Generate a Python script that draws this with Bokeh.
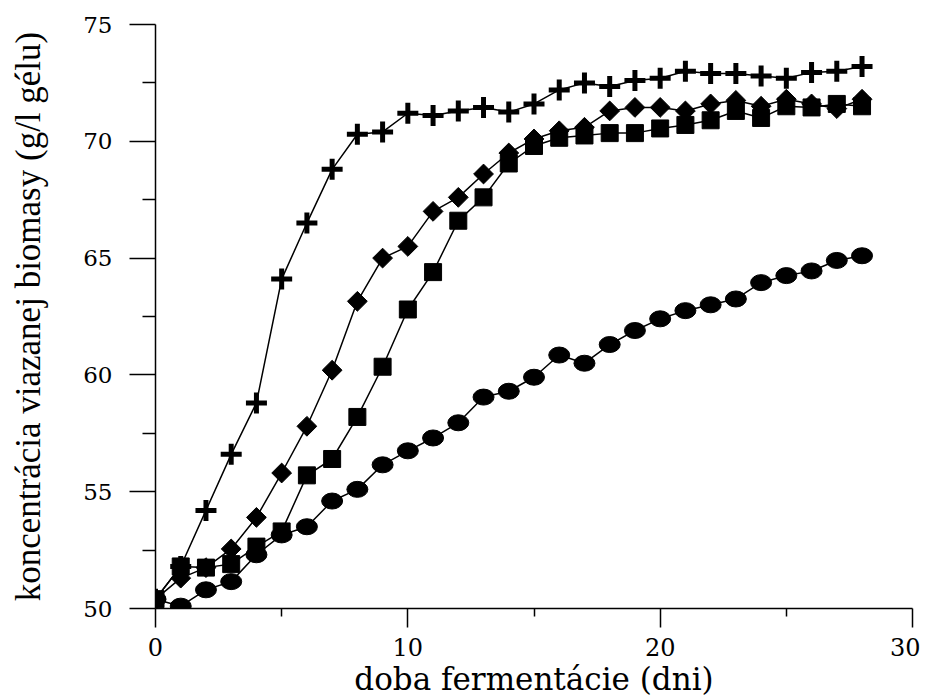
import math
from bokeh.plotting import figure
from bokeh.models import Range1d, FixedTicker
from bokeh.embed import file_html
from bokeh.resources import INLINE

days = list(range(0, 29))

plus_vals = [50.4, 51.8, 54.2, 56.6, 58.8, 64.1, 66.5, 68.8, 70.3, 70.4,
             71.2, 71.1, 71.3, 71.45, 71.25, 71.6, 72.2, 72.5, 72.35, 72.6,
             72.7, 73.0, 72.9, 72.9, 72.8, 72.7, 72.95, 73.0, 73.2]

diamond_vals = [50.4, 51.3, 51.75, 52.55, 53.9, 55.8, 57.8, 60.2, 63.15, 65.0,
                65.5, 67.0, 67.6, 68.6, 69.5, 70.1, 70.45, 70.6, 71.3, 71.45,
                71.45, 71.3, 71.6, 71.75, 71.5, 71.8, 71.6, 71.4, 71.8]

square_vals = [50.4, 51.8, 51.75, 51.9, 52.65, 53.3, 55.7, 56.4, 58.2, 60.35,
               62.8, 64.4, 66.6, 67.6, 69.05, 69.8, 70.15, 70.25, 70.35, 70.35,
               70.55, 70.7, 70.9, 71.3, 71.0, 71.5, 71.45, 71.6, 71.5]

circle_vals = [50.4, 50.1, 50.8, 51.15, 52.3, 53.15, 53.5, 54.6, 55.1, 56.15,
               56.75, 57.3, 57.95, 59.05, 59.3, 59.9, 60.85, 60.5, 61.3, 61.9,
               62.4, 62.75, 63.0, 63.25, 63.95, 64.25, 64.45, 64.9, 65.1]

x_major = [0, 10, 20, 30]
x_minor = [5, 15, 25]
y_major = [50, 55, 60, 65, 70, 75]
y_minor = [52.5, 57.5, 62.5, 67.5, 72.5]

p = figure(width=920, height=699, output_backend="svg", toolbar_location=None,
           x_range=Range1d(0, 30), y_range=Range1d(50, 75),
           min_border_left=155, min_border_right=8, min_border_top=24,
           min_border_bottom=90)
p.outline_line_color = None
p.grid.visible = False
p.background_fill_color = "white"
p.border_fill_color = "white"

p.xaxis.ticker = FixedTicker(ticks=x_major, minor_ticks=x_minor)
p.yaxis.ticker = FixedTicker(ticks=y_major, minor_ticks=y_minor)

for ax in (p.xaxis[0], p.yaxis[0]):
    ax.axis_line_color = "black"
    ax.axis_line_width = 1.5
    ax.major_tick_line_color = "black"
    ax.major_tick_line_width = 1.5
    ax.minor_tick_line_color = "black"
    ax.minor_tick_line_width = 1.5
    ax.major_tick_in = 0
    ax.minor_tick_in = 0
    ax.major_label_text_color = "black"
    ax.axis_label_text_color = "black"
    ax.axis_label_text_font_style = "normal"

p.xaxis.major_tick_out = 19
p.xaxis.minor_tick_out = 8
p.yaxis.major_tick_out = 26
p.yaxis.minor_tick_out = 13

p.xaxis.major_label_text_font = "DejaVu Serif"
p.xaxis.major_label_text_font_size = "24px"
p.xaxis.major_label_standoff = 10
p.yaxis.major_label_text_font = "DejaVu Serif"
p.yaxis.major_label_text_font_size = "23px"
p.yaxis.major_label_standoff = 17

p.xaxis.axis_label = "doba fermentácie (dni)"
p.xaxis.axis_label_text_font = "DejaVu Serif"
p.xaxis.axis_label_text_font_size = "31px"
p.xaxis.axis_label_standoff = 2

p.yaxis.axis_label = "koncentrácia viazanej biomasy (g/l gélu)"
p.yaxis.axis_label_text_font = "Liberation Serif"
p.yaxis.axis_label_text_font_size = "35px"
p.yaxis.axis_label_standoff = 32

lw = 1.5
p.line(days, circle_vals, line_color="black", line_width=lw)
p.ellipse(days, circle_vals, width=21, height=16, width_units="screen",
          height_units="screen", fill_color="black", line_color="black")

p.line(days, diamond_vals, line_color="black", line_width=lw)
p.scatter(days, diamond_vals, marker="square", angle=math.pi / 4, size=14,
          fill_color="black", line_color="black")

p.line(days, square_vals, line_color="black", line_width=lw)
p.scatter(days, square_vals, marker="square", size=17, fill_color="black",
          line_color="black")

p.line(days, plus_vals, line_color="black", line_width=lw)
p.scatter(days, plus_vals, marker="cross", size=21, line_color="black",
          line_width=5)

open("out.html", "w").write(file_html(p, INLINE))
